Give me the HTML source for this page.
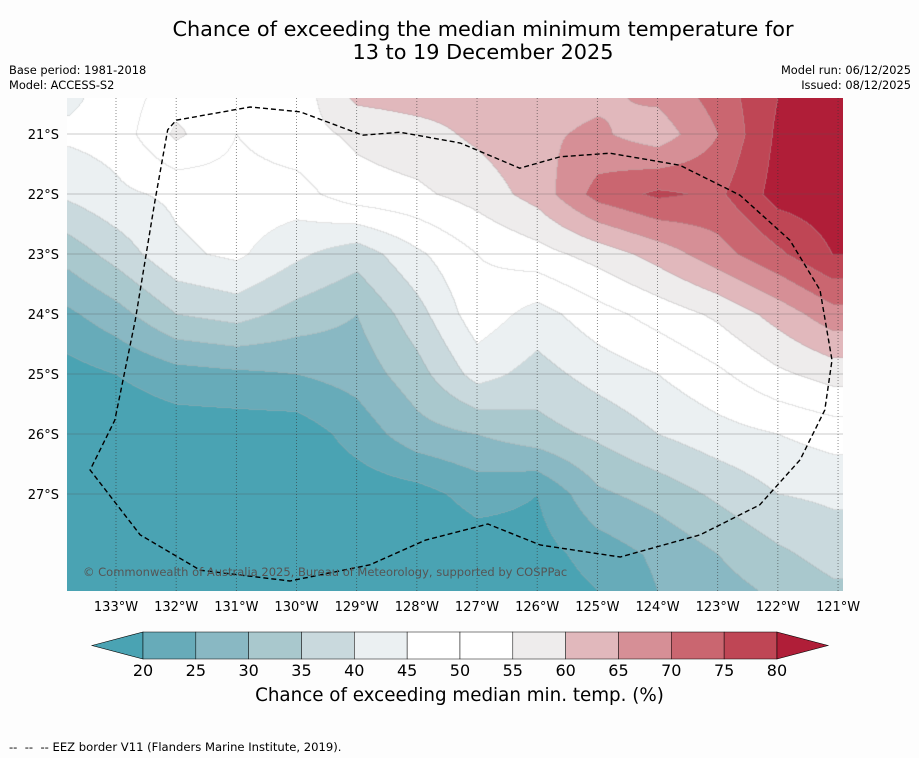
<!DOCTYPE html>
<html><head><meta charset="utf-8"><style>
body{margin:0;background:#fdfdfd;font-family:"DejaVu Sans","Liberation Sans",sans-serif;}
#root{position:relative;width:919px;height:758px;overflow:hidden;background:#fdfdfd;}
.t{position:absolute;white-space:nowrap;color:#000;}
</style></head><body>
<div id="root">
<div class="t" style="left:0;width:966px;top:18px;text-align:center;font-size:20.8px;line-height:23px;">Chance of exceeding the median minimum temperature for<br>13 to 19 December 2025</div>
<div class="t" style="left:9px;top:63px;font-size:11.4px;line-height:15px;">Base period: 1981-2018<br>Model: ACCESS-S2</div>
<div class="t" style="right:8px;top:63px;font-size:11.4px;line-height:15px;text-align:right;">Model run: 06/12/2025<br>Issued: 08/12/2025</div>
<canvas id="map" width="776" height="493" style="position:absolute;left:67px;top:98px;"></canvas>
<svg id="ov" width="919" height="758" style="position:absolute;left:0;top:0;"></svg>
<div class="t" style="left:83px;top:565px;font-size:11.5px;color:#555;">© Commonwealth of Australia 2025, Bureau of Meteorology, supported by COSPPac</div>
<div class="t" style="left:0;width:919px;top:685px;text-align:center;font-size:18.3px;">Chance of exceeding median min. temp. (%)</div>
<div class="t" style="left:9px;top:740px;font-size:11.6px;">--&nbsp; --&nbsp; -- EEZ border V11 (Flanders Marine Institute, 2019).</div>
</div>
<script>
const lons=[133.8,133,132,131,130,129,128,127,126,125,124,123,122,121.1];
const lats=[20.4,21,22,23,24,25,26,27,28,28.6];
const grid=[
[44,47,53,55,52,61,62,62,63,64,66,72,80,82],
[46,47,56,50,53,56,58,61,64,66,62,70,81,83],
[41,44,46,48,48,53,54,57,62,72,76,74,82,83],
[32,37,44,46,41,37,44,50,53,57,62,68,74,80],
[24,28,35,37,33,30,38,48,43,48,52,56,62,68],
[18,20,23,24,25,27,33,42,38,42,45,49,54,57],
[16,16,17,17,17,22,28,30,33,36,40,43,45,47],
[15,15,16,16,16,17,18,22,20,29,32,36,40,41],
[15,15,15,15,15,15,15,17,18,22,26,30,34,37],
[15,15,15,15,15,15,15,16,17,20,25,28,31,34]];
const levels=[20,25,30,35,40,45,50,55,60,65,70,75,80];
const colors=["#4aa3b3","#67abb9","#89b8c3","#a9c8cd","#c9d9dd","#ebf0f2","#ffffff","#ffffff","#eeecec","#e1b8bc","#d68f96","#ca6670","#bf4655","#b01e38"];
const lonTicks=[133,132,131,130,129,128,127,126,125,124,123,122,121];
const latTicks=[21,22,23,24,25,26,27];
const eezLon=[132.0,130.77,129.94,128.9,128.28,127.28,126.29,125.62,124.79,123.63,122.63,121.8,121.3,121.1,121.22,121.63,122.3,123.29,124.62,125.95,126.82,127.86,128.78,130.11,131.6,132.6,133.43,133.02,132.68,132.35,132.14,132.0];
const eezLat=[20.77,20.55,20.63,21.02,20.97,21.15,21.57,21.38,21.32,21.52,22.02,22.77,23.6,24.77,25.6,26.43,27.18,27.68,28.05,27.85,27.5,27.77,28.18,28.45,28.27,27.68,26.6,25.77,24.1,22.1,20.93,20.77];
const X=l=>116+(133-l)*60.17, Y=s=>134+(s-21)*60;
const NS="http://www.w3.org/2000/svg";
const ov=document.getElementById('ov');
function mk(t,a,p){const e=document.createElementNS(NS,t);for(const k in a)e.setAttribute(k,a[k]);(p||ov).appendChild(e);return e;}
function val(lon,lat){
 let i=0;for(;i<lons.length-2;i++)if(lon>=lons[i+1])break;
 let j=0;for(;j<lats.length-2;j++)if(lat<=lats[j+1])break;
 let fx=(lons[i]-lon)/(lons[i]-lons[i+1]);fx=Math.max(0,Math.min(1,fx));
 let fy=(lat-lats[j])/(lats[j+1]-lats[j]);fy=Math.max(0,Math.min(1,fy));
 const a=grid[j][i],b=grid[j][i+1],c=grid[j+1][i],d=grid[j+1][i+1];
 return a*(1-fx)*(1-fy)+b*fx*(1-fy)+c*(1-fx)*fy+d*fx*fy;}
function lev(v){let k=0;while(k<levels.length&&v>=levels[k])k++;return k;}
const cv=document.getElementById('map'),ctx=cv.getContext('2d');
const W=776,H=493,img=ctx.createImageData(W,H),L=new Int8Array(W*H);
for(let y=0;y<H;y++)for(let x=0;x<W;x++){const px=x+67,py=y+98;const lon=133-(px-116)/60.17,lat=21+(py-134)/60;L[y*W+x]=lev(val(lon,lat));}
function hex(h){return[parseInt(h.substr(1,2),16),parseInt(h.substr(3,2),16),parseInt(h.substr(5,2),16)];}
const rgb=colors.map(hex);
for(let y=0;y<H;y++)for(let x=0;x<W;x++){const k=L[y*W+x];let c=rgb[k];
 const edge=(x<W-1&&L[y*W+x+1]!=k)||(y<H-1&&L[(y+1)*W+x]!=k);
 const o=(y*W+x)*4;if(edge){img.data[o]=c[0]*0.7+50;img.data[o+1]=c[1]*0.7+50;img.data[o+2]=c[2]*0.7+50;}else{img.data[o]=c[0];img.data[o+1]=c[1];img.data[o+2]=c[2];}img.data[o+3]=255;}
ctx.putImageData(img,0,0);
lonTicks.forEach(l=>{const x=X(l);
 const g=mk('line',{x1:x,x2:x,y1:98,y2:591,stroke:'#333','stroke-width':0.8,'stroke-dasharray':'1,2',opacity:0.7});
 
 const t=mk('text',{x:x,y:611,'text-anchor':'middle','font-size':13,'font-family':'DejaVu Sans, Liberation Sans, sans-serif'});
 t.textContent=l+'°W';});
latTicks.forEach(s=>{const y=Y(s);
 const g=mk('line',{x1:67,x2:843,y1:y,y2:y,stroke:'#555','stroke-width':0.6,opacity:0.6});
 
 const t=mk('text',{x:59,y:y+5,'text-anchor':'end','font-size':13,'font-family':'DejaVu Sans, Liberation Sans, sans-serif'});
 t.textContent=s+'°S';});
const pts=eezLon.map((l,i)=>X(l).toFixed(1)+','+Y(eezLat[i]).toFixed(1)).join(' ');
const ez=mk('polyline',{points:pts,fill:'none',stroke:'#000','stroke-width':1.4,'stroke-dasharray':'5,3'});

const cbx0=143,cbw=52.83,cy0=632,cy1=659;
const lt=mk('polygon',{points:`92,645.5 ${cbx0},${cy0} ${cbx0},${cy1}`,fill:colors[0],stroke:'#000','stroke-width':0.6});

for(let k=0;k<levels.length-1;k++){const r=mk('rect',{x:cbx0+k*cbw,y:cy0,width:cbw,height:cy1-cy0,fill:colors[k+1],stroke:'#000','stroke-width':0.5});
 }
const xe=cbx0+(levels.length-1)*cbw;
const rt=mk('polygon',{points:`${xe},${cy0} 828,645.5 ${xe},${cy1}`,fill:colors[13],stroke:'#000','stroke-width':0.6});

levels.forEach((v,k)=>{const t=mk('text',{x:cbx0+k*cbw,y:676,'text-anchor':'middle','font-size':16,'font-family':'DejaVu Sans, Liberation Sans, sans-serif'});
 t.textContent=v;});
</script>
</body></html>
